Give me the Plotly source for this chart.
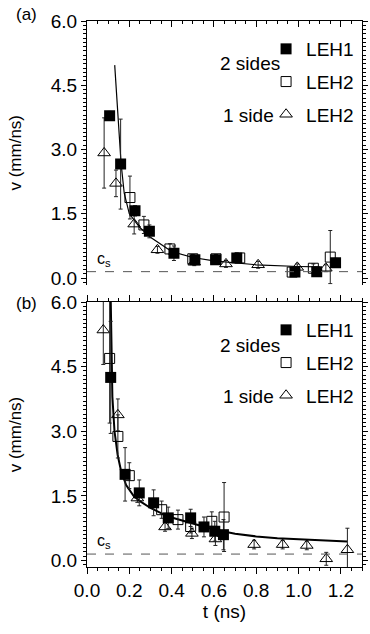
import plotly.graph_objects as go

# ---------------- data ----------------
cs = 0.15

# panel (a)
a_leh1_t = [0.107, 0.159, 0.227, 0.295, 0.411, 0.510, 0.608, 0.708, 0.983, 1.086, 1.175]
a_leh1_v = [3.79, 2.66, 1.57, 1.09, 0.58, 0.43, 0.43, 0.47, 0.14, 0.15, 0.36]
a_leh1_e = [0.10, 1.05, 0.12, 0.15, 0.17, 0.10, 0.10, 0.12, 0.08, 0.08, 0.10]

a_leh2_t = [0.203, 0.269, 0.392, 0.500, 0.610, 0.722, 0.970, 1.070, 1.150]
a_leh2_v = [1.88, 1.24, 0.68, 0.45, 0.45, 0.47, 0.14, 0.23, 0.49]
a_leh2_e = [0.50, 0.20, 0.12, 0.10, 0.10, 0.10, 0.08, 0.10, 0.62]

a_one_t = [0.081, 0.137, 0.223, 0.333, 0.507, 0.657, 0.809, 0.994, 1.129]
a_one_v = [2.92, 2.21, 1.26, 0.66, 0.37, 0.33, 0.31, 0.25, 0.23]
a_one_e = [0.82, 0.31, 0.23, 0.08, 0.08, 0.08, 0.08, 0.08, 0.08]

a_fit_t = [0.131, 0.146, 0.161, 0.176, 0.200, 0.250, 0.300, 0.400, 0.500, 0.600, 0.800, 1.000, 1.100]
a_fit_v = [4.97, 3.69, 2.68, 1.98, 1.50, 1.18, 0.95, 0.62, 0.48, 0.40, 0.31, 0.27, 0.26]

# panel (b)
b_leh1_t = [0.112, 0.180, 0.247, 0.315, 0.384, 0.490, 0.553, 0.604, 0.645]
b_leh1_v = [4.25, 2.00, 1.57, 1.34, 0.99, 0.99, 0.78, 0.68, 0.60]
b_leh1_e = [1.30, 0.62, 0.30, 0.30, 0.25, 0.20, 0.23, 0.23, 0.35]

b_leh2_t = [0.107, 0.146, 0.200, 0.353, 0.430, 0.490, 0.590, 0.648]
b_leh2_v = [4.69, 2.88, 1.97, 1.18, 0.95, 0.79, 0.91, 1.01]
b_leh2_e = [1.50, 0.50, 0.30, 0.20, 0.22, 0.15, 0.22, 0.80]

b_one_t = [0.077, 0.146, 0.238, 0.369, 0.496, 0.607, 0.790, 0.925, 1.039, 1.131, 1.231]
b_one_v = [5.35, 3.38, 1.45, 0.78, 0.63, 0.50, 0.37, 0.37, 0.35, 0.04, 0.25]
b_one_e = [0.80, 0.37, 0.10, 0.10, 0.12, 0.15, 0.10, 0.10, 0.10, 0.15, 0.50]

b_fit_t = [0.112, 0.115, 0.120, 0.130, 0.145, 0.160, 0.185, 0.220, 0.250, 0.300,
           0.350, 0.400, 0.500, 0.600, 0.700, 0.800, 0.900, 1.000, 1.100, 1.230]
b_fit_v = [6.10, 4.80, 3.80, 3.00, 2.45, 2.10, 1.75, 1.50, 1.38, 1.22,
           1.10, 1.00, 0.86, 0.72, 0.62, 0.56, 0.52, 0.50, 0.47, 0.44]

y_ticks = [0.0, 1.5, 3.0, 4.5, 6.0]
x_ticks = [0.0, 0.2, 0.4, 0.6, 0.8, 1.0, 1.2]

# ---------------- figure ----------------
FONT = "Liberation Sans, Arial, Helvetica, sans-serif"
W, H = 370, 634
ML, MR, MT, MB = 87, 2, 21, 67
PH = H - MT - MB

def py2paper(py):
    return 1 - (py - MT) / PH

def px2paper(px):
    return (px - ML) / (W - ML - MR)

fig = go.Figure()

ebar = dict(type="data", thickness=1, width=2, color="#222")

def add_panel(xa, ya, leg, s1, s2, s3, fit, lw):
    (t1, v1, e1), (t2, v2, e2), (t3, v3, e3) = s1, s2, s3
    fig.add_trace(go.Scatter(x=fit[0], y=fit[1], mode="lines", xaxis=xa, yaxis=ya,
                             line=dict(color="black", width=lw), showlegend=False))
    fig.add_trace(go.Scatter(x=t3, y=v3, mode="markers", xaxis=xa, yaxis=ya, name="LEH2",
                             legend=leg, legendgroup="c", legendrank=3,
                             marker=dict(symbol="triangle-up-open", size=11,
                                         color="black", line=dict(width=1)),
                             error_y=dict(array=e3, **ebar)))
    fig.add_trace(go.Scatter(x=t2, y=v2, mode="markers", xaxis=xa, yaxis=ya, name="LEH2",
                             legend=leg, legendgroup="b", legendrank=2,
                             marker=dict(symbol="square-open", size=10,
                                         color="black", line=dict(width=1)),
                             error_y=dict(array=e2, **ebar)))
    fig.add_trace(go.Scatter(x=t1, y=v1, mode="markers", xaxis=xa, yaxis=ya, name="LEH1",
                             legend=leg, legendgroup="a", legendrank=1,
                             marker=dict(symbol="square", size=11, color="black"),
                             error_y=dict(array=e1, **ebar)))

add_panel("x2", "y2", "legend",
          (a_leh1_t, a_leh1_v, a_leh1_e), (a_leh2_t, a_leh2_v, a_leh2_e),
          (a_one_t, a_one_v, a_one_e), (a_fit_t, a_fit_v), 1.2)
add_panel("x", "y", "legend2",
          (b_leh1_t, b_leh1_v, b_leh1_e), (b_leh2_t, b_leh2_v, b_leh2_e),
          (b_one_t, b_one_v, b_one_e), (b_fit_t, b_fit_v), 2)

yax = dict(range=[-0.15, 6.0], tickvals=y_ticks, tickformat=".1f",
           ticks="outside", ticklen=5, tickwidth=1, tickcolor="black",
           showline=True, linecolor="black", linewidth=1, mirror="ticks",
           showgrid=False, zeroline=False,
           minor=dict(dtick=0.1, tick0=0, ticks="outside", ticklen=3, tickcolor="black", showgrid=False),
           tickfont=dict(size=19, family=FONT, color="black"),
           title=dict(text="v (mm/ns)", font=dict(size=17, family=FONT, color="black"), standoff=24))

top_dom = [py2paper(284.5), 1.0]
bot_dom = [0.0, py2paper(302)]

leg_common = dict(xanchor="right", yanchor="top",
                  traceorder="grouped", tracegroupgap=5, bgcolor="rgba(0,0,0,0)",
                  font=dict(size=19, family=FONT, color="black"), itemwidth=30)

fig.update_layout(
    width=W, height=H,
    margin=dict(l=ML, r=MR, t=MT, b=MB),
    paper_bgcolor="white", plot_bgcolor="white",
    font=dict(family=FONT, color="black"),
    xaxis=dict(domain=[0, 1], anchor="y", range=[0, 1.3], tickvals=x_ticks, tickformat=".1f",
               ticks="outside", ticklen=6, tickcolor="black",
               showline=True, linecolor="black", linewidth=1, mirror="ticks",
               showgrid=False, zeroline=False,
               minor=dict(dtick=0.05, tick0=0, ticks="outside", ticklen=3, tickcolor="black", showgrid=False),
               tickfont=dict(size=19, family=FONT, color="black"),
               title=dict(text="t (ns)", font=dict(size=19, family=FONT, color="black"), standoff=4)),
    xaxis2=dict(domain=[0, 1], anchor="y2", side="top", range=[0, 1.3], tickvals=x_ticks,
                ticks="inside", ticklen=6, tickcolor="black", showticklabels=False,
                showline=True, linecolor="black", linewidth=1, mirror=False,
                showgrid=False, zeroline=False,
                minor=dict(dtick=0.05, tick0=0, ticks="inside", ticklen=3, tickcolor="black", showgrid=False)),
    yaxis=dict(domain=bot_dom, anchor="x", **yax),
    yaxis2=dict(domain=top_dom, anchor="x2", **yax),
    legend=dict(x=px2paper(365), y=py2paper(30), **leg_common),
    legend2=dict(x=px2paper(365), y=py2paper(311), **leg_common),
)

# c_s dashed lines
for yr in ["y", "y2"]:
    fig.add_shape(type="line", xref="paper", x0=0, x1=1, yref=yr, y0=cs, y1=cs,
                  line=dict(color="#555", width=1, dash="dash"))
    fig.add_annotation(xref="x" if yr == "y" else "x2", yref=yr, x=0.04, y=cs,
                       xanchor="left", yanchor="bottom", showarrow=False, yshift=1,
                       text="c<sub>s</sub>", font=dict(size=16, family=FONT, color="black"))

# group labels and panel labels
for off in [0, 281]:
    fig.add_annotation(xref="paper", yref="paper", x=px2paper(286), y=py2paper(64 + off),
                       xanchor="right", yanchor="middle", showarrow=False, text="2 sides",
                       font=dict(size=19, family=FONT, color="black"))
    fig.add_annotation(xref="paper", yref="paper", x=px2paper(280), y=py2paper(115 + off),
                       xanchor="right", yanchor="middle", showarrow=False, text="1 side",
                       font=dict(size=19, family=FONT, color="black"))
fig.add_annotation(xref="paper", yref="paper", x=px2paper(12), y=py2paper(14),
                   xanchor="left", yanchor="middle", showarrow=False, text="(a)",
                   font=dict(size=17, family=FONT, color="black"))
fig.add_annotation(xref="paper", yref="paper", x=px2paper(12), y=py2paper(303),
                   xanchor="left", yanchor="middle", showarrow=False, text="(b)",
                   font=dict(size=17, family=FONT, color="black"))

fig.write_html("out.html")
